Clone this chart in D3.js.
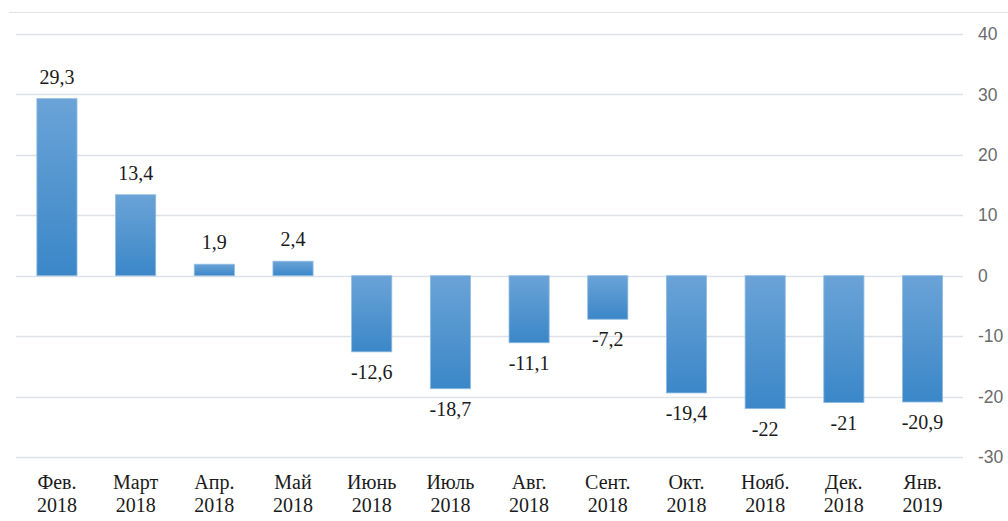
<!DOCTYPE html>
<html><head><meta charset="utf-8">
<script src="https://cdn.jsdelivr.net/npm/d3@7"></script>
<style>body{margin:0;background:#fff}svg{display:block}</style>
</head><body>
<svg id="c" width="1008" height="521"></svg>
<script>
const months = ["Фев.","Март","Апр.","Май","Июнь","Июль","Авг.","Сент.","Окт.","Нояб.","Дек.","Янв."];
const years = ["2018","2018","2018","2018","2018","2018","2018","2018","2018","2018","2018","2019"];
const values = [29.3,13.4,1.9,2.4,-12.6,-18.7,-11.1,-7.2,-19.4,-22,-21,-20.9];
const yTicks = [40,30,20,10,0,-10,-20,-30];

const svg = d3.select("#c");
const x = d3.scaleBand().domain(d3.range(values.length)).range([17.6, 961.9]).paddingInner(0.49).paddingOuter(0.245);
const y = d3.scaleLinear().domain([-30, 40]).range([457, 34]);

const defs = svg.append("defs");
const g = defs.append("linearGradient").attr("id","bg").attr("x1",0).attr("y1",0).attr("x2",0).attr("y2",1);
g.append("stop").attr("offset","0%").attr("stop-color","#6aa3d7");
g.append("stop").attr("offset","100%").attr("stop-color","#3b87c8");

// top border line
svg.append("line").attr("x1",9).attr("x2",1008).attr("y1",12.5).attr("y2",12.5).attr("stroke","#dfe3e8").attr("stroke-width",1);

// right axis
const axis = d3.axisRight(y).tickValues(yTicks).tickSize(0).tickPadding(0).tickFormat(d => String(d));
const ag = svg.append("g").attr("transform","translate(978,0)").call(axis);
ag.select(".domain").remove();
ag.selectAll("text").attr("x",0).attr("font-family","Liberation Sans, Arial, sans-serif").attr("font-size",17.5).attr("fill","#6b6b6b");

// gridlines
svg.append("g").selectAll("line").data(yTicks).join("line")
  .attr("x1",16).attr("x2",963)
  .attr("y1",d=>Math.round(y(d))+0.5).attr("y2",d=>Math.round(y(d))+0.5)
  .attr("stroke","#dde1e6").attr("stroke-width",1.5);

// bars
svg.append("g").selectAll("rect").data(values).join("rect")
  .attr("x",(d,i)=>x(i))
  .attr("width",x.bandwidth())
  .attr("y",d=>y(Math.max(0,d)))
  .attr("height",d=>Math.abs(y(d)-y(0)))
  .attr("fill","url(#bg)")
  .attr("stroke","#8fbbe3").attr("stroke-width",0.8);

// data labels
svg.append("g").selectAll("text").data(values).join("text")
  .attr("x",(d,i)=>x(i)+x.bandwidth()/2)
  .attr("y",d=> d>=0 ? y(d)-15 : y(d)+27)
  .attr("text-anchor","middle")
  .attr("font-family","Liberation Serif, Times New Roman, serif")
  .attr("font-size",20).attr("fill","#1a1a1a")
  .text(d=>String(d).replace(".",","));

// category labels
const cl = svg.append("g").selectAll("text").data(months).join("text")
  .attr("text-anchor","middle")
  .attr("font-family","Liberation Serif, Times New Roman, serif")
  .attr("font-size",20).attr("fill","#1a1a1a");
cl.append("tspan").attr("x",(d,i)=>x(i)+x.bandwidth()/2).attr("y",489).text(d=>d);
cl.append("tspan").attr("x",(d,i)=>x(i)+x.bandwidth()/2).attr("y",512).text((d,i)=>years[i]);
</script>
</body></html>
